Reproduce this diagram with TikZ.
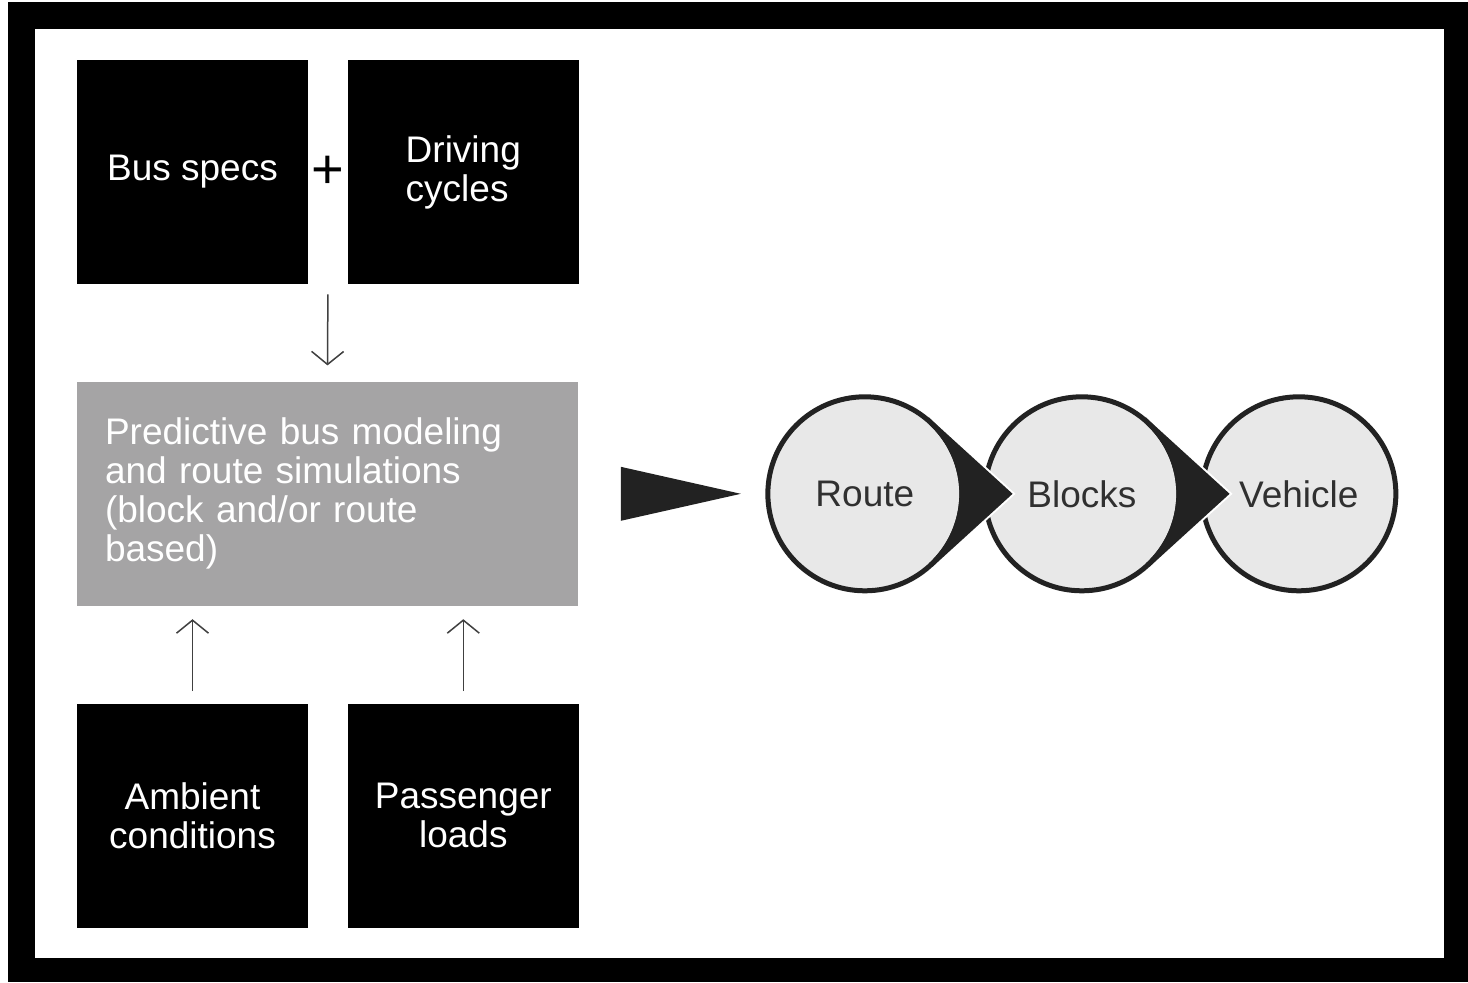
\documentclass[tikz,border=0pt]{standalone}
\usepackage{fontspec}
\setmainfont{Liberation Sans}
\usetikzlibrary{shapes.geometric, arrows.meta, positioning, calc}

\definecolor{boxgray}{RGB}{165,164,165}
\definecolor{inkdark}{RGB}{34,34,34}
\definecolor{disc}{RGB}{232,232,232}
\definecolor{disctext}{RGB}{48,48,48}
\definecolor{linegray}{RGB}{64,64,64}

\begin{document}
\begin{tikzpicture}[
  x=0.5pt, y=-0.5pt,
  label font/.style={font=\fontsize{18.5}{19.5}\selectfont},
  input/.style={label font, fill=black, text=white, minimum width=115.5pt, minimum height=112pt, inner sep=0pt, align=center},
  sim/.style={label font, fill=boxgray, text=white, text width=222.5pt, inner xsep=14pt, minimum height=112pt, align=left},
  stop/.style={label font, circle, draw=inkdark, line width=2.5pt, fill=disc, text=disctext, minimum size=97pt, inner sep=0pt, outer sep=0pt},
  wedge/.style={fill=inkdark, draw=inkdark, line width=2.5pt},
  halo/.style={draw=white, line width=4.5pt},
  arrow/.style={-{Straight Barb[length=6.5pt, width=16pt]}, line width=0.75pt, draw=linegray},
  pointer/.style={isosceles triangle, isosceles triangle stretches, fill=inkdark, minimum width=27pt, minimum height=60pt, inner sep=0pt}
]
  \useasboundingbox (0,0) rectangle (1468,982);

  % frame
  \fill[black] (8,2) rectangle (1468,982);
  \fill[white] (35,29) rectangle (1444,958);

  % inputs and model
  \node[input] (specs) at (192.5,172) {Bus specs};
  \node[input, align=left, right=19.5pt of specs] (cycles) {Driving\\cycles};
  \node[font=\fontsize{28}{28}\selectfont, inner sep=0pt] (plus) at ($(specs.east)!0.5!(cycles.west)$) {+};
  \node[sim, below=48.5pt of specs.south west, anchor=north west] (model) {Predictive bus modeling\\and route simulations\\(block and/or route\\based)};
  \node[input, below=48.5pt of model.south west, anchor=north west] (ambient) {Ambient\\conditions};
  \node[input, right=19.5pt of ambient] (loads) {Passenger\\loads};

  \coordinate (gap) at (plus |- specs.south);
  \draw[arrow] ([yshift=-5pt]gap) -- ([yshift=8pt]model.north);
  \draw[arrow] ([yshift=6pt]ambient.north) -- ([yshift=-6.5pt]ambient.north |- model.south);
  \draw[arrow] ([yshift=6pt]loads.north) -- ([yshift=-6.5pt]loads.north |- model.south);

  % output levels
  \node[pointer, right=21pt of model] (ptr) {};
  \node[stop, right=13pt of ptr] (route) {Route};
  \node[stop, right=11.5pt of route] (blocks) {Blocks};
  \node[stop, right=11.5pt of blocks] (vehicle) {Vehicle};

  \coordinate (blockstip) at ($(blocks.center)+(144,0)$);
  \coordinate (routetip) at ($(route.center)+(144,0)$);

  \draw[halo] ($(blocks.47)!0.2!(blockstip)$) -- (blockstip) -- ($(blocks.-47)!0.2!(blockstip)$);
  \draw[wedge] (blocks.47) -- (blockstip) -- (blocks.-47) arc[start angle=-47, end angle=47, radius=48.5pt] -- cycle;
  \draw[halo] ($(route.47)!0.2!(routetip)$) -- (routetip) -- ($(route.-47)!0.2!(routetip)$);
  \draw[wedge] (route.47) -- (routetip) -- (route.-47) arc[start angle=-47, end angle=47, radius=48.5pt] -- cycle;
\end{tikzpicture}
\end{document}
